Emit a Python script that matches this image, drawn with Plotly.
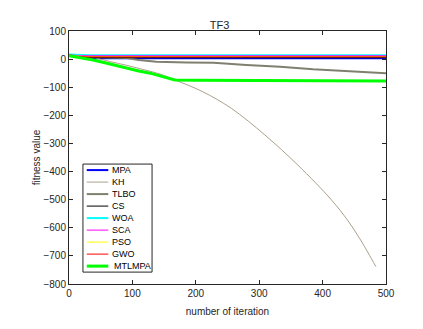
import plotly.graph_objects as go

# iteration / fitness values
kh_x = [0, 30, 65, 91, 117, 145, 167, 210, 256, 309, 361, 414, 440, 459, 472, 484]
kh_y = [15, 10, -9, -22, -37, -54, -74, -115, -175, -270, -377, -501, -575, -640, -690, -738]

tlbo_x = [0, 20, 60, 91, 110, 138, 186, 228, 280, 333, 385, 438, 469, 500]
tlbo_y = [15, 10, 6, 4, -3, -9, -12, -13, -21, -27, -36, -42, -47, -50]

mtl_x = [0, 20, 38, 60, 91, 110, 128, 150, 167, 200, 300, 400, 500]
mtl_y = [12, 5, -3, -15, -33, -42, -50, -62, -74, -75, -76, -77, -78]

flat_x = [0, 10, 30, 500]
mpa_y = [15, 8, 3, 3]
cs_y = [15, 9, 5, 5]
woa_y = [16, 15, 14, 14]
sca_y = [16, 13, 12, 12]
pso_y = [15, 11, 9, 9]
gwo_y = [15, 10, 8, 8]

# name, x, y, colour, width
series = [
    ('MPA', flat_x, mpa_y, '#0000ff', 2),
    ('KH', kh_x, kh_y, '#aca08c', 1),
    ('TLBO', tlbo_x, tlbo_y, '#808070', 2),
    ('CS', flat_x, cs_y, '#000000', 1),
    ('WOA', flat_x, woa_y, '#00ffff', 2),
    ('SCA', flat_x, sca_y, '#ff00ff', 1),
    ('PSO', flat_x, pso_y, '#ffff00', 1),
    ('GWO', flat_x, gwo_y, '#ff0000', 1),
    ('MTLMPA', mtl_x, mtl_y, '#00ff00', 3),
]

fig = go.Figure()
for name, xs, ys, col, w in series:
    if name == 'KH':
        ln = dict(color=col, width=w, shape='spline', smoothing=1)
    else:
        ln = dict(color=col, width=w)
    fig.add_trace(go.Scatter(x=xs, y=ys, mode='lines', name=name, line=ln))

# MATLAB-style compact legend box (plotly's own legend rows are too tall)
lx0, lx1, ly_top, ly_bot = 0.044, 0.262, 0.474, 0.047
fig.add_shape(type='rect', xref='paper', yref='paper', x0=lx0, x1=lx1, y0=ly_bot, y1=ly_top,
              line=dict(color='#262626', width=1), fillcolor='white', layer='above')
row_h = (ly_top - ly_bot) / len(series)
for i, (name, xs, ys, col, w) in enumerate(series):
    yc = ly_top - row_h * (i + 0.5)
    fig.add_shape(type='line', xref='paper', yref='paper', x0=0.056, x1=0.124, y0=yc, y1=yc,
                  line=dict(color=col, width=w), layer='above')
    fig.add_annotation(xref='paper', yref='paper', x=0.128 if name != 'MTLMPA' else 0.137, y=yc,
                       text=name, showarrow=False, xanchor='left', yanchor='middle',
                       font=dict(size=9, color='#000000'))

axis_common = dict(showline=True, linecolor='#262626', linewidth=1, mirror='ticks',
                   ticks='inside', ticklen=4, tickcolor='#262626', showgrid=False, zeroline=False,
                   tickfont=dict(size=10, color='#262626'))
# page body adds ~8px offset, margins compensate
fig.update_layout(
    width=423, height=329,
    margin=dict(l=61, r=45, t=23, b=53),
    paper_bgcolor='white', plot_bgcolor='white',
    font=dict(family='Liberation Sans, Arial, sans-serif', size=10, color='#262626'),
    title=dict(text='TF3', x=0.5, xanchor='center', yref='container', y=0.949, yanchor='middle',
               font=dict(size=11)),
    showlegend=False,
)
fig.update_xaxes(range=[0, 500], dtick=100, title=dict(text='number of iteration', standoff=9, font=dict(size=10)), **axis_common)
fig.update_yaxes(range=[-800, 100], dtick=100, title=dict(text='fitness value', standoff=0, font=dict(size=10)), **axis_common)

fig.write_html("out.html")
